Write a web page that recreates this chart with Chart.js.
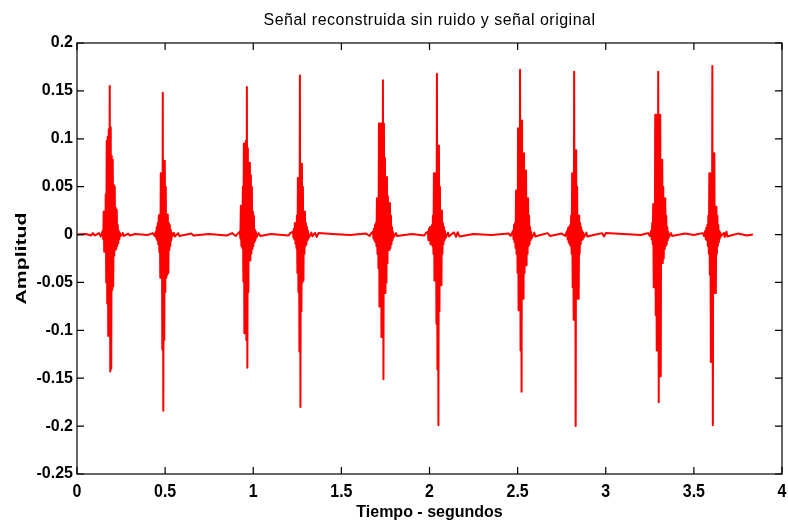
<!DOCTYPE html>
<html>
<head>
<meta charset="utf-8">
<script src="https://cdn.jsdelivr.net/npm/chart.js@4.4.1/dist/chart.umd.min.js"></script>
<style>
  html, body { margin: 0; padding: 0; background: #ffffff; }
  #wrap { width: 788px; height: 527px; }
</style>
</head>
<body>
<div id="wrap"><canvas id="c" width="788" height="527"></canvas></div>
<script>
// ---- Data ----
const titleText = 'Señal reconstruida sin ruido y señal original';
const xLabel = 'Tiempo - segundos';
const yLabel = 'Amplitud';

const xTickValues = [0, 0.5, 1, 1.5, 2, 2.5, 3, 3.5, 4];
const xTickLabels = ['0', '0.5', '1', '1.5', '2', '2.5', '3', '3.5', '4'];
const yTickValues = [-0.25, -0.2, -0.15, -0.1, -0.05, 0, 0.05, 0.1, 0.15, 0.2];
const yTickLabels = ['-0.25', '-0.2', '-0.15', '-0.1', '-0.05', '0', '0.05', '0.1', '0.15', '0.2'];

// sample step inside each heart-sound burst (seconds)
const burstStep = 0.00284;
// start time of each burst (seconds)
const burstStart = [0.146, 0.447, 0.924, 1.225, 1.679, 1.991, 2.474, 2.781, 3.258, 3.565];

// burst samples (alternating positive / negative swings)
const b1 = [0.004,-0.005, 0.024,-0.018, 0.02,-0.016, 0.042,-0.05, 0.098,-0.072, 0.102,-0.106, 0.11,-0.104, 0.155,-0.143, 0.112,-0.14, 0.082,-0.058, 0.078,-0.054, 0.052,-0.022, 0.05,-0.016, 0.028,-0.015, 0.026,-0.012, 0.01,-0.009, 0.004,-0.005, 0.002,-0.002];
const b2 = [0.003,-0.004, 0.008,-0.006, 0.012,-0.01, 0.02,-0.018, 0.021,-0.045, 0.064,-0.045, 0.064,-0.12, 0.148,-0.184, 0.077,-0.11, 0.077,-0.06, 0.05,-0.045, 0.021,-0.042, 0.021,-0.04, 0.012,-0.016, 0.01,-0.012, 0.005,-0.006, 0.002,-0.002];
const b3 = [0.003,-0.004, 0.03,-0.012, 0.03,-0.014, 0.05,-0.049, 0.095,-0.103, 0.095,-0.103, 0.098,-0.11, 0.154,-0.139, 0.09,-0.06, 0.075,-0.027, 0.075,-0.027, 0.062,-0.02, 0.05,-0.015, 0.024,-0.012, 0.02,-0.008, 0.005,-0.006, 0.003,-0.003];
const b4 = [0.003,-0.003, 0.006,-0.005, 0.012,-0.01, 0.012,-0.014, 0.02,-0.04, 0.059,-0.06, 0.059,-0.122, 0.166,-0.18, 0.074,-0.08, 0.074,-0.05, 0.05,-0.048, 0.024,-0.02, 0.024,-0.012, 0.012,-0.01, 0.008,-0.006, 0.004,-0.004];
const b5 = [0.003,-0.004, 0.006,-0.006, 0.01,-0.008, 0.012,-0.012, 0.038,-0.02, 0.038,-0.035, 0.116,-0.075, 0.116,-0.075, 0.116,-0.107, 0.116,-0.107, 0.161,-0.151, 0.116,-0.061, 0.08,-0.061, 0.06,-0.05, 0.06,-0.03, 0.04,-0.016, 0.033,-0.016, 0.033,-0.014, 0.02,-0.01, 0.008,-0.006, 0.003,-0.003];
const b6 = [0.003,-0.006, 0.006,-0.004, 0.008,-0.01, 0.006,-0.008, 0.01,-0.012, 0.02,-0.02, 0.064,-0.048, 0.064,-0.048, 0.064,-0.093, 0.168,-0.141, 0.093,-0.199, 0.093,-0.08, 0.05,-0.053, 0.025,-0.053, 0.025,-0.02, 0.012,-0.01, 0.008,-0.006, 0.004,-0.004];
const b7 = [0.004,-0.005, 0.01,-0.008, 0.012,-0.014, 0.046,-0.02, 0.046,-0.04, 0.111,-0.079, 0.111,-0.079, 0.172,-0.121, 0.119,-0.164, 0.119,-0.067, 0.085,-0.067, 0.085,-0.04, 0.067,-0.032, 0.067,-0.032, 0.038,-0.02, 0.038,-0.012, 0.02,-0.01, 0.008,-0.006, 0.003,-0.004];
const b8 = [0.004,-0.005, 0.007,-0.008, 0.008,-0.01, 0.01,-0.012, 0.02,-0.02, 0.064,-0.055, 0.064,-0.089, 0.17,-0.089, 0.088,-0.2, 0.088,-0.06, 0.05,-0.067, 0.02,-0.067, 0.02,-0.02, 0.012,-0.01, 0.008,-0.006, 0.004,-0.005, 0.002,-0.003];
const b9 = [0.004,-0.005, 0.012,-0.01, 0.032,-0.055, 0.032,-0.055, 0.125,-0.084, 0.125,-0.121, 0.125,-0.121, 0.17,-0.175, 0.125,-0.148, 0.125,-0.148, 0.078,-0.03, 0.078,-0.03, 0.05,-0.025, 0.038,-0.015, 0.038,-0.012, 0.02,-0.01, 0.008,-0.006, 0.003,-0.003];
const b10 = [0.004,-0.005, 0.007,-0.006, 0.01,-0.012, 0.02,-0.02, 0.064,-0.042, 0.064,-0.133, 0.064,-0.133, 0.176,-0.199, 0.085,-0.06, 0.085,-0.061, 0.029,-0.061, 0.029,-0.02, 0.02,-0.012, 0.01,-0.008, 0.004,-0.004, 0.002,-0.002];
const bursts = [b1, b2, b3, b4, b5, b6, b7, b8, b9, b10];

// quiet baseline between bursts (time, value)
const quietT = [0, 0.05, 0.08, 0.09, 0.1, 0.125, 0.135,
  0.26, 0.265, 0.29, 0.3, 0.33, 0.4, 0.43, 0.44,
  0.55, 0.555, 0.575, 0.58, 0.65, 0.66, 0.75, 0.85, 0.88, 0.9, 0.915,
  1.03, 1.04, 1.1, 1.2, 1.21,
  1.33, 1.335, 1.35, 1.36, 1.37, 1.45, 1.55, 1.64, 1.66, 1.67,
  1.81, 1.815, 1.9, 1.97, 1.98,
  2.105, 2.11, 2.14, 2.15, 2.16, 2.17, 2.25, 2.35, 2.45, 2.46,
  2.595, 2.6, 2.67, 2.685, 2.75, 2.77,
  2.89, 2.895, 2.98, 2.99, 3.0, 3.1, 3.2, 3.24, 3.25,
  3.37, 3.375, 3.45, 3.5, 3.55, 3.558,
  3.67, 3.675, 3.685, 3.69, 3.75, 3.8, 3.835];
const quietV = [0, 0.0005, -0.001, 0.0015, -0.001, 0.0015, -0.002,
  0.0015, -0.0015, 0.001, -0.001, 0.0005, -0.0005, 0.0015, -0.0015,
  0.002, -0.002, 0.0015, -0.0015, 0.001, -0.001, 0.0005, -0.001, 0.0015, -0.0015, 0.0015,
  0.0015, -0.0015, 0.0005, -0.001, 0.0015,
  0.002, -0.002, 0.002, -0.0025, 0.0015, 0.0005, -0.0005, 0.001, -0.0015, 0.0015,
  0.0015, -0.0015, 0.0005, -0.001, 0.0015,
  0.002, -0.002, 0.0025, -0.0025, 0.0025, -0.002, 0.0005, -0.0005, 0.001, -0.0015,
  0.002, -0.002, 0.0015, -0.0015, 0.001, -0.0015,
  0.002, -0.002, 0.0015, -0.002, 0.0015, 0.0005, -0.0005, 0.0015, -0.0015,
  0.0015, -0.0015, 0.001, -0.0005, 0.0015, -0.0015,
  0.002, -0.0025, 0.003, -0.002, 0.001, -0.001, 0];

// ---- Build the point table ----
const points = [];
quietT.forEach((t, i) => points.push({ x: t, y: quietV[i] }));
bursts.forEach((arr, k) => {
  arr.forEach((v, i) => points.push({ x: burstStart[k] + i * burstStep, y: v }));
});
points.sort((a, b) => a.x - b.x);

const BASE_FONT = '"Liberation Sans", Arial, Helvetica, sans-serif';

const decorPlugin = {
  id: 'decor',
  afterDraw(chart) {
    const ctx = chart.ctx;
    const ca = chart.chartArea;
    const xs = chart.scales.x, ys = chart.scales.y;
    ctx.save();
    // box
    ctx.strokeStyle = '#000';
    ctx.lineWidth = 1.2;
    ctx.strokeRect(ca.left, ca.top, ca.right - ca.left, ca.bottom - ca.top);
    // inward ticks on all four sides
    const tl = 7;
    ctx.beginPath();
    xTickValues.forEach(v => {
      const px = xs.getPixelForValue(v);
      ctx.moveTo(px, ca.bottom); ctx.lineTo(px, ca.bottom - tl);
      ctx.moveTo(px, ca.top); ctx.lineTo(px, ca.top + tl);
    });
    yTickValues.forEach(v => {
      const py = ys.getPixelForValue(v);
      ctx.moveTo(ca.left, py); ctx.lineTo(ca.left + tl, py);
      ctx.moveTo(ca.right, py); ctx.lineTo(ca.right - tl, py);
    });
    ctx.stroke();

    ctx.fillStyle = '#000';
    ctx.textAlign = 'center';
    ctx.textBaseline = 'alphabetic';

    // x tick labels (tall bold digits), placed through the x scale
    ctx.font = 'bold 16px ' + BASE_FONT;
    xTickValues.forEach((v, i) => {
      const px = xs.getPixelForValue(v);
      ctx.save();
      ctx.translate(px, ca.bottom + 23);
      ctx.scale(1, 1.2);
      ctx.fillText(xTickLabels[i], 0, 0);
      ctx.restore();
    });

    // title
    ctx.font = '16px ' + BASE_FONT;
    try { ctx.letterSpacing = '0.5px'; } catch (e) {}
    ctx.fillText(titleText, (ca.left + ca.right) / 2, 25);
    try { ctx.letterSpacing = '0px'; } catch (e) {}

    // x axis label
    ctx.font = 'bold 16px ' + BASE_FONT;
    ctx.fillText(xLabel, (ca.left + ca.right) / 2, 516.5);

    // y axis label (rotated, stretched along its direction)
    ctx.font = 'bold 15px ' + BASE_FONT;
    const w = ctx.measureText(yLabel).width;
    ctx.translate(22, (ca.top + ca.bottom) / 2);
    ctx.rotate(-Math.PI / 2);
    ctx.scale(92 / w, 1);
    ctx.textBaseline = 'middle';
    ctx.fillText(yLabel, 0, 0);
    ctx.restore();
  }
};

new Chart(document.getElementById('c'), {
  type: 'line',
  data: {
    datasets: [{
      data: points,
      borderColor: '#ff0000',
      backgroundColor: '#ff0000',
      borderWidth: 2,
      borderJoinStyle: 'round',
      pointRadius: 0,
      tension: 0.0001,
      fill: false
    }]
  },
  options: {
    responsive: false,
    animation: false,
    events: [],
    layout: { padding: { top: 43, right: 6, left: 0, bottom: 0 } },
    plugins: {
      legend: { display: false },
      title: { display: false },
      tooltip: { enabled: false }
    },
    scales: {
      x: {
        type: 'linear',
        min: 0, max: 4,
        grid: { display: false, drawTicks: false },
        border: { display: false },
        afterBuildTicks: s => { s.ticks = xTickValues.map(v => ({ value: v })); },
        afterFit: s => { s.height = 53; s.paddingLeft = 0; s.paddingRight = 0; },
        ticks: { display: false }
      },
      y: {
        type: 'linear',
        min: -0.25, max: 0.2,
        grid: { display: false, drawTicks: false },
        border: { display: false },
        afterBuildTicks: s => { s.ticks = yTickValues.map(v => ({ value: v })); },
        afterFit: s => { s.width = 77; s.paddingTop = 0; s.paddingBottom = 0; },
        ticks: {
          padding: 4,
          autoSkip: false,
          color: '#000',
          font: { family: BASE_FONT, size: 16, weight: 'bold' },
          callback: (v, i) => yTickLabels[i]
        }
      }
    }
  },
  plugins: [decorPlugin]
});
</script>
</body>
</html>
